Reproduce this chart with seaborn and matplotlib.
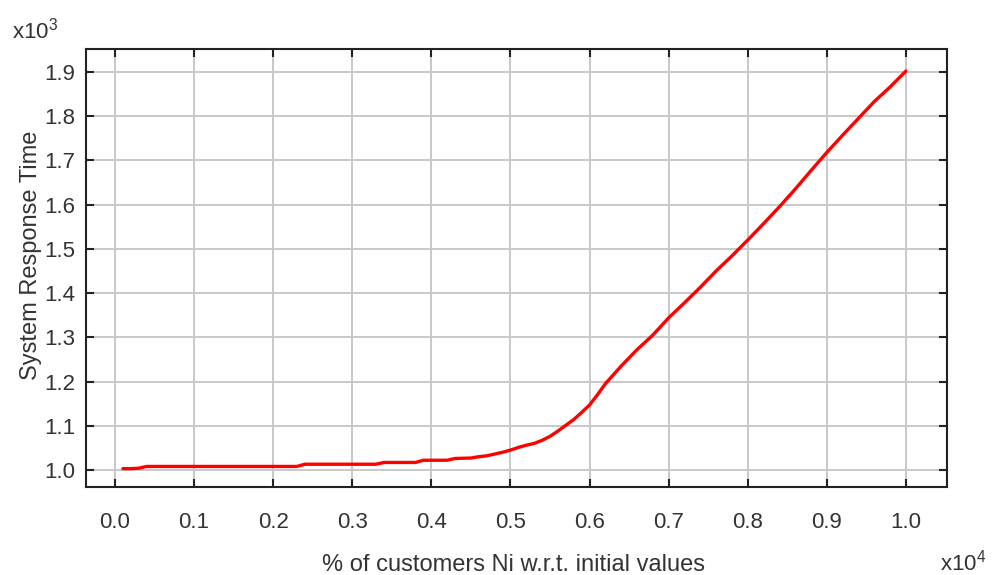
import matplotlib
matplotlib.use("Agg")
import matplotlib.pyplot as plt
import seaborn as sns
import pandas as pd

# x in units of 10^4, y in units of 10^3
x_vals = [0.01, 0.02, 0.03, 0.04, 0.10, 0.15, 0.20, 0.23, 0.24, 0.28, 0.33, 0.34, 0.38,
          0.39, 0.42, 0.43, 0.45, 0.46, 0.47, 0.48, 0.49, 0.50, 0.51, 0.52, 0.53, 0.54,
          0.55, 0.56, 0.57, 0.58, 0.59, 0.60, 0.61, 0.62, 0.64, 0.66, 0.68, 0.70, 0.72,
          0.74, 0.76, 0.78, 0.80, 0.82, 0.84, 0.86, 0.88, 0.90, 0.92, 0.94, 0.96, 0.98, 1.00]
y_vals = [1.003, 1.003, 1.004, 1.008, 1.008, 1.008, 1.008, 1.008, 1.013, 1.013, 1.013, 1.017, 1.017,
          1.022, 1.022, 1.026, 1.027, 1.030, 1.032, 1.036, 1.040, 1.045, 1.051, 1.056, 1.060, 1.067,
          1.076, 1.088, 1.101, 1.114, 1.130, 1.147, 1.170, 1.195, 1.235, 1.272, 1.305, 1.344, 1.378,
          1.413, 1.450, 1.484, 1.520, 1.557, 1.595, 1.635, 1.677, 1.718, 1.757, 1.795, 1.833, 1.866, 1.902]

x_ticks = [0.0, 0.1, 0.2, 0.3, 0.4, 0.5, 0.6, 0.7, 0.8, 0.9, 1.0]
y_ticks = [1.0, 1.1, 1.2, 1.3, 1.4, 1.5, 1.6, 1.7, 1.8, 1.9]

df = pd.DataFrame({"x": x_vals, "y": y_vals})

sns.set_theme(style="white")
plt.rcParams["font.family"] = ["Liberation Sans", "DejaVu Sans"]
plt.rcParams["mathtext.default"] = "regular"
plt.rcParams["mathtext.fontset"] = "custom"
plt.rcParams["mathtext.rm"] = "Liberation Sans"

TXT = "#333333"

fig = plt.figure(figsize=(9.94, 5.75), dpi=100)
ax = fig.add_axes([86/994, 1 - 487/575, (947-86)/994, (487-49)/575])

sns.lineplot(data=df, x="x", y="y", ax=ax, color="#ff0000", linewidth=2.4)

ax.set_xlim(-0.0367, 1.052)
ax.set_ylim(0.9615, 1.952)
ax.set_xticks(x_ticks)
ax.set_yticks(y_ticks)
ax.set_xticklabels([f"{v:.1f}" for v in x_ticks])
ax.set_yticklabels([f"{v:.1f}" for v in y_ticks])

ax.grid(True, color="#c8c8c8", linewidth=1.4)
ax.set_axisbelow(True)
for sp in ax.spines.values():
    sp.set_visible(True)
    sp.set_color("#222222")
    sp.set_linewidth(1.5)

ax.tick_params(axis="both", which="both", direction="in", length=6, width=1.5,
               colors="#222222", labelcolor=TXT, labelsize=16,
               top=True, right=True, bottom=True, left=True)
ax.tick_params(axis="x", pad=18)
ax.tick_params(axis="y", pad=8)

ax.set_xlabel("% of customers Ni w.r.t. initial values", fontsize=17, color=TXT)
ax.set_ylabel("System Response Time", fontsize=17, color=TXT)
ax.xaxis.set_label_coords(0.497, -0.153)
ax.yaxis.set_label_coords(-0.051, 0.53)

fig.text(12/994, 1 - 38/575, r"x10$^{3}$", fontsize=16, color=TXT, ha="left", va="baseline")
fig.text(940/994, 1 - 571/575, r"x10$^{4}$", fontsize=16, color=TXT, ha="left", va="baseline")

fig.savefig("out.png", dpi=100, facecolor="white")
